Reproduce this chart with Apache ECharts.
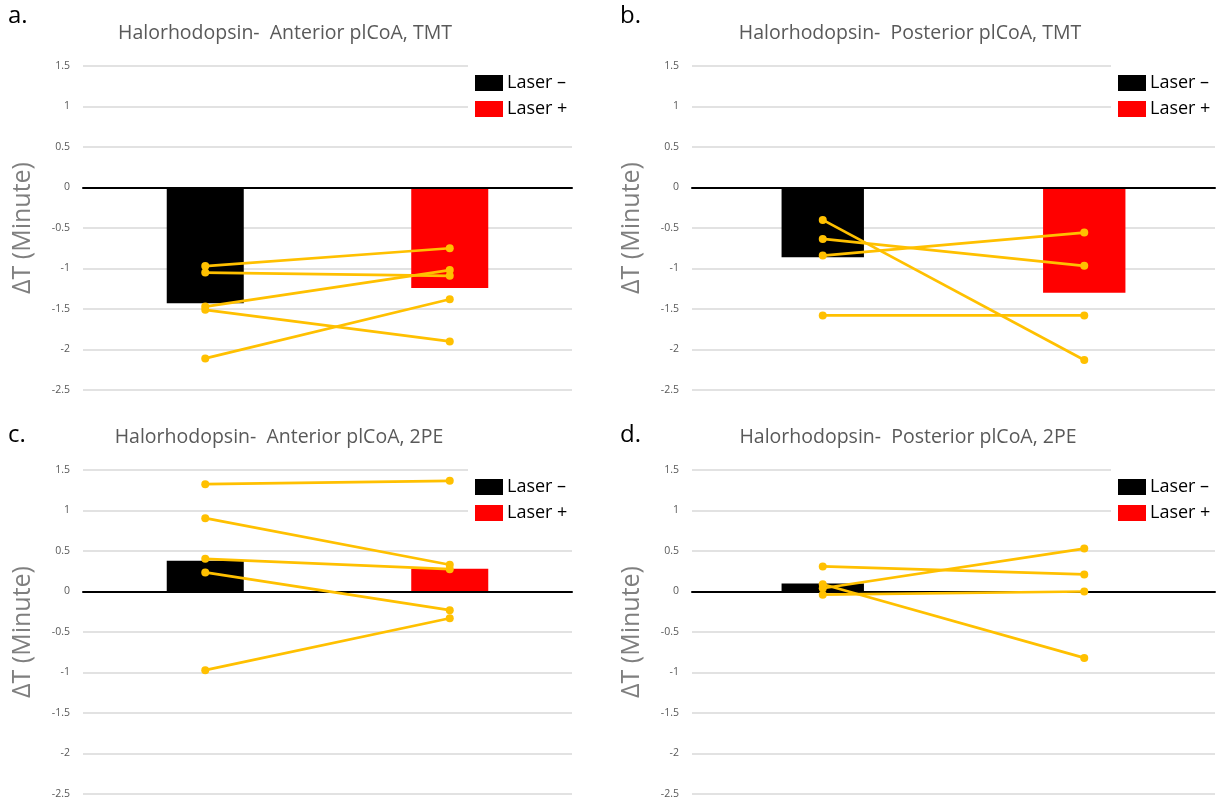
<!DOCTYPE html>
<html>
<head>
<meta charset="utf-8">
<script src="https://cdn.jsdelivr.net/npm/echarts@6/dist/echarts.min.js"></script>
<style>html,body{margin:0;padding:0;background:#fff;}#main{width:1226px;height:803px;}</style>
</head>
<body>
<div id="main"></div>
<script>
// ---------- data ----------
const categories = ['Laser –', 'Laser +'];
const panelLetters = ['a.', 'b.', 'c.', 'd.'];
const panelTitles = [
  'Halorhodopsin-  Anterior plCoA, TMT',
  'Halorhodopsin-  Posterior plCoA, TMT',
  'Halorhodopsin-  Anterior plCoA, 2PE',
  'Halorhodopsin-  Posterior plCoA, 2PE'
];
const barLaserMinus = [-1.43, -0.86, 0.38, 0.10];
const barLaserPlus  = [-1.24, -1.30, 0.28, 0.00];
const linesA = [[-0.97, -0.75], [-1.05, -1.09], [-1.47, -1.02], [-1.51, -1.90], [-2.11, -1.38]];
const linesB = [[-0.40, -2.13], [-0.635, -0.967], [-0.84, -0.557], [-1.58, -1.58]];
const linesC = [[1.325, 1.366], [0.905, 0.33], [0.403, 0.276], [0.235, -0.23], [-0.971, -0.33]];
const linesD = [[0.31, 0.21], [0.09, -0.82], [0.04, 0.53], [-0.04, 0.0]];
const yMin = -2.5, yMax = 1.5, yInterval = 0.5;
const yAxisName = 'ΔT (Minute)';

// ---------- layout ----------
const panelLines = [linesA, linesB, linesC, linesD];
const gridBoxes = [
  {left: 83, top: 66, width: 489, height: 324},
  {left: 692, top: 66, width: 523, height: 324},
  {left: 83, top: 470, width: 489, height: 324},
  {left: 692, top: 470, width: 523, height: 324}
];
const titlePos = [[285, 33], [910, 33], [279, 437], [908, 437]];
const letterPos = [[8, 16], [620, 16], [8, 435], [620, 435]];
const FONT = '"Open Sans", "Noto Sans", sans-serif';

const grid = [], xAxis = [], yAxis = [], series = [], legend = [], graphic = [];
gridBoxes.forEach((g, i) => {
  grid.push({left: g.left, top: g.top, width: g.width, height: g.height, containLabel: false});
  xAxis.push({
    type: 'category', gridIndex: i, data: categories,
    axisLine: {onZero: true, lineStyle: {color: '#000', width: 2}},
    axisTick: {show: false}, axisLabel: {show: false}, splitLine: {show: false}, z: 5
  });
  yAxis.push({
    type: 'value', gridIndex: i, min: yMin, max: yMax, interval: yInterval,
    name: yAxisName, nameLocation: 'middle', nameGap: 48, nameRotate: 90,
    nameTextStyle: {fontFamily: FONT, fontSize: 25, color: '#7f7f7f'},
    axisLine: {show: false}, axisTick: {show: false},
    axisLabel: {fontFamily: FONT, fontSize: 10.5, color: '#595959', margin: 13},
    splitLine: {lineStyle: {color: '#d9d9d9', width: 1.5}}
  });
  series.push({
    name: categories[0], type: 'bar', xAxisIndex: i, yAxisIndex: i, stack: 'p' + i,
    barWidth: '31.5%', itemStyle: {color: '#000'}, data: [barLaserMinus[i], '-'], z: 2
  });
  series.push({
    name: categories[1], type: 'bar', xAxisIndex: i, yAxisIndex: i, stack: 'p' + i,
    barWidth: '31.5%', itemStyle: {color: '#ff0000'}, data: ['-', barLaserPlus[i]], z: 2
  });
  panelLines[i].forEach((pair, k) => {
    series.push({
      name: 'mouse' + i + '_' + k, type: 'line', xAxisIndex: i, yAxisIndex: i,
      data: pair, symbol: 'circle', symbolSize: 8, showSymbol: true,
      lineStyle: {color: '#ffc000', width: 2.75}, itemStyle: {color: '#ffc000'},
      z: 6, silent: true
    });
  });
  legend.push({
    data: categories, orient: 'vertical',
    left: g.left + g.width - 104, top: g.top - 9,
    padding: [17, 12, 17, 7], itemGap: 8, itemWidth: 28, itemHeight: 16,
    backgroundColor: '#fff', icon: 'rect',
    textStyle: {fontFamily: FONT, fontSize: 18, color: '#000', padding: [0, 0, 0, -1]},
    selectedMode: false, z: 4
  });
  graphic.push({
    type: 'text', x: titlePos[i][0], y: titlePos[i][1],
    style: {text: panelTitles[i], font: '19.5px ' + FONT, fill: '#595959', textAlign: 'center', textVerticalAlign: 'middle'}
  });
  graphic.push({
    type: 'text', x: letterPos[i][0], y: letterPos[i][1],
    style: {text: panelLetters[i], font: '24px ' + FONT, fill: '#000', textAlign: 'left', textVerticalAlign: 'middle'}
  });
});

const chart = echarts.init(document.getElementById('main'), null, {renderer: 'canvas'});
chart.setOption({
  animation: false, backgroundColor: '#fff',
  grid, xAxis, yAxis, series, legend, graphic
});
</script>
</body>
</html>
